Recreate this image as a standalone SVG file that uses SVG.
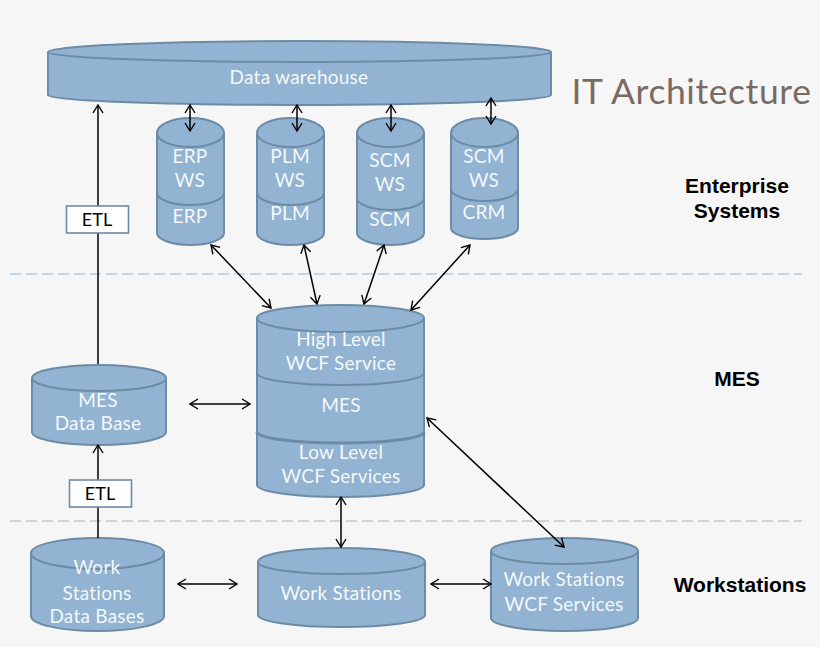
<svg xmlns="http://www.w3.org/2000/svg" width="820" height="647" viewBox="0 0 820 647">
<style>
.c{fill:#92b3d1;stroke:#6c8ba6;stroke-width:2}
.a{fill:none;stroke:#6c8ba6;stroke-width:2}
.t{font-family:"Lato","Open Sans",sans-serif;font-size:19px;fill:#f4f8fb;text-anchor:middle;letter-spacing:.25px}
.l{fill:none;stroke:#000;stroke-width:1.5}
.e{fill:#fff;stroke:#6c8ba6;stroke-width:1.6}
.et{font-family:"Lato","Open Sans",sans-serif;font-size:18px;fill:#000;text-anchor:middle}
.h{font-family:"Liberation Sans",Arial,sans-serif;font-size:21px;font-weight:bold;fill:#000;text-anchor:middle}
.d{stroke:#b5cde0;stroke-width:1.5;stroke-dasharray:11 5;fill:none}
</style>
<defs>
<marker id="o" viewBox="0 0 12 12" refX="11" refY="6" markerWidth="12" markerHeight="12" markerUnits="userSpaceOnUse" orient="auto-start-reverse"><path d="M3 1 L11 6 L3 11" fill="none" stroke="#000" stroke-width="1.4"/></marker>
</defs>
<rect width="820" height="647" fill="#f6f6f7"/>
<g id="dividers"><path class="d" d="M10 274H802"/><path class="d" d="M10 521H802"/></g>
<g id="title"><text x="691.500" y="104" font-family="Lato,'Open Sans',sans-serif" font-size="35.500" fill="#7b6a62" text-anchor="middle" letter-spacing=".6">IT Architecture</text></g>
<g id="data-warehouse"><path class="c" d="M48 52A251.500 11 0 0 1 551 52V95A251.500 10 0 0 1 48 95Z"/><path class="a" d="M48 52A251.500 10 0 0 0 551 52"/><text class="t" x="299" y="84">Data warehouse</text></g>
<g id="erp"><path class="c" d="M157 133A33.500 15 0 0 1 224 133V233A33.500 12 0 0 1 157 233Z"/><path class="a" d="M157 133A33.500 14 0 0 0 224 133M157 193A33.500 12 0 0 0 224 193"/><text class="t" x="190" y="163">ERP</text><text class="t" x="190" y="187">WS</text><text class="t" x="190" y="223">ERP</text></g>
<g id="plm"><path class="c" d="M257 133A33.500 15 0 0 1 324 133V233A33.500 12 0 0 1 257 233Z"/><path class="a" d="M257 133A33.500 14 0 0 0 324 133M257 193A33.500 12 0 0 0 324 193"/><text class="t" x="290" y="163">PLM</text><text class="t" x="290" y="187">WS</text><text class="t" x="290" y="220">PLM</text></g>
<g id="scm"><path class="c" d="M357 133A33.500 15 0 0 1 424 133V233A33.500 12 0 0 1 357 233Z"/><path class="a" d="M357 133A33.500 14 0 0 0 424 133M357 198A33.500 12 0 0 0 424 198"/><text class="t" x="390" y="167">SCM</text><text class="t" x="390" y="191">WS</text><text class="t" x="390" y="226">SCM</text></g>
<g id="crm"><path class="c" d="M451 133A33.500 15 0 0 1 518 133V228A33.500 11 0 0 1 451 228Z"/><path class="a" d="M451 133A33.500 14 0 0 0 518 133M451 189A33.500 12 0 0 0 518 189"/><text class="t" x="484" y="163">SCM</text><text class="t" x="484" y="187">WS</text><text class="t" x="484" y="219">CRM</text></g>
<g id="mes"><path class="c" d="M257 318A83.500 13 0 0 1 424 318V485A83.500 12 0 0 1 257 485Z"/><path class="a" d="M257 318A83.500 14 0 0 0 424 318M257 373A83.500 12 0 0 0 424 373"/><path class="a" style="stroke-width:3" d="M257 432A83.500 11 0 0 0 424 432"/><text class="t" x="341" y="346">High Level</text><text class="t" x="341" y="370">WCF Service</text><text class="t" x="341" y="412">MES</text><text class="t" x="341" y="459">Low Level</text><text class="t" x="341" y="483">WCF Services</text></g>
<g id="mes-db"><path class="c" d="M32 378A67 13 0 0 1 166 378V432A67 13 0 0 1 32 432Z"/><path class="a" d="M32 378A67 13 0 0 0 166 378"/><text class="t" x="98" y="407">MES</text><text class="t" x="98" y="430">Data Base</text></g>
<g id="ws-db"><path class="c" d="M31 553A66.500 15 0 0 1 164 553V616A66.500 15 0 0 1 31 616Z"/><path class="a" d="M31 553A66.500 16 0 0 0 164 553"/><text class="t" x="97" y="574">Work</text><text class="t" x="97" y="600">Stations</text><text class="t" x="97" y="623">Data Bases</text></g>
<g id="work-stations"><path class="c" d="M258 562A83.500 14 0 0 1 425 562V615A83.500 12 0 0 1 258 615Z"/><path class="a" d="M258 562A83.500 12 0 0 0 425 562"/><text class="t" x="341" y="600">Work Stations</text></g>
<g id="ws-wcf"><path class="c" d="M491 551A73.500 13 0 0 1 638 551V618A73.500 13 0 0 1 491 618Z"/><path class="a" d="M491 551A73.500 13 0 0 0 638 551"/><text class="t" x="564" y="586">Work Stations</text><text class="t" x="564" y="611">WCF Services</text></g>
<g id="connectors">
<path class="l" marker-end="url(#o)" d="M98 364V105"/>
<path class="l" d="M98 538V445" marker-end="url(#o)"/>
<path class="l" marker-start="url(#o)" marker-end="url(#o)" d="M190 105V131"/>
<path class="l" marker-start="url(#o)" marker-end="url(#o)" d="M297 105V131"/>
<path class="l" marker-start="url(#o)" marker-end="url(#o)" d="M391 105V131"/>
<path class="l" marker-start="url(#o)" marker-end="url(#o)" d="M491 98V124"/>
<path class="l" marker-start="url(#o)" marker-end="url(#o)" d="M211 245L271 308"/>
<path class="l" marker-start="url(#o)" marker-end="url(#o)" d="M304 245L317 304"/>
<path class="l" marker-start="url(#o)" marker-end="url(#o)" d="M384 245L364 304"/>
<path class="l" marker-start="url(#o)" marker-end="url(#o)" d="M470 245L411 310"/>
<path class="l" marker-start="url(#o)" marker-end="url(#o)" d="M190 404H250"/>
<path class="l" marker-start="url(#o)" marker-end="url(#o)" d="M341 497V547"/>
<path class="l" marker-start="url(#o)" marker-end="url(#o)" d="M427 418L564 547"/>
<path class="l" marker-start="url(#o)" marker-end="url(#o)" d="M178 584H237"/>
<path class="l" marker-start="url(#o)" marker-end="url(#o)" d="M431 584H491"/>
</g>
<g id="etl-top"><rect class="e" x="66.500" y="206" width="62" height="27"/><text class="et" x="97" y="226">ETL</text></g>
<g id="etl-bottom"><rect class="e" x="69.500" y="480" width="62" height="27"/><text class="et" x="100" y="500">ETL</text></g>
<g id="labels"><text class="h" x="737" y="193">Enterprise</text><text class="h" x="737" y="218">Systems</text><text class="h" x="737" y="386">MES</text><text class="h" x="740" y="592">Workstations</text></g>
</svg>
